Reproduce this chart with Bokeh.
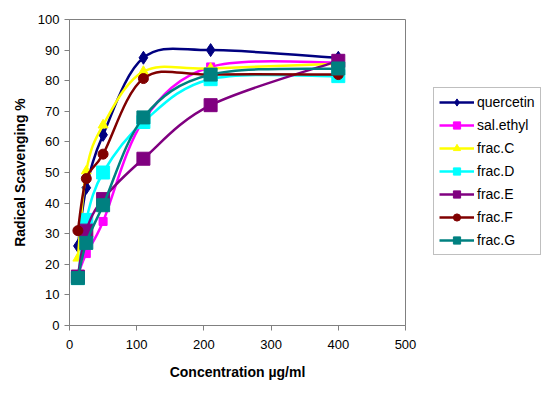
from bokeh.embed import file_html
from bokeh.models import Legend, LegendItem
from bokeh.plotting import figure
from bokeh.resources import INLINE

FONT = "Liberation Sans"

conc = [12.5, 25, 50, 110, 210, 400]

quercetin = [26, 45, 62.3, 87.5, 90, 87.5]
sal_ethyl = [16.5, 23.5, 34, 67, 84.5, 86]
frac_c = [22, 50.5, 65.5, 83, 84, 85.5]
frac_d = [15.5, 34.5, 50, 66.5, 80.5, 81.5]
frac_e = [16, 31, 41.3, 54.5, 72, 86.5]
frac_f = [31, 48, 56, 80.7, 82, 82]
frac_g = [15.5, 27, 39.3, 68, 82, 84]

x_ticks = [0, 100, 200, 300, 400, 500]
y_ticks = [0, 10, 20, 30, 40, 50, 60, 70, 80, 90, 100]

# name, values, colour, marker, marker size
series = [
    ("quercetin", quercetin, "#000080", "diamond", 13),
    ("sal.ethyl", sal_ethyl, "#FF00FF", "square", 8),
    ("frac.C", frac_c, "#FFFF00", "triangle", 10),
    ("frac.D", frac_d, "#00FFFF", "square", 13),
    ("frac.E", frac_e, "#800080", "square", 13),
    ("frac.F", frac_f, "#800000", "circle", 10),
    ("frac.G", frac_g, "#008080", "square", 13),
]


def smooth_segments(xs, ys):
    """Catmull-Rom control points, like Excel's smoothed line."""
    pts = list(zip(xs, ys))
    n = len(pts)
    out = {k: [] for k in ("x0", "y0", "x1", "y1", "cx0", "cy0", "cx1", "cy1")}
    for i in range(n - 1):
        p0 = pts[max(i - 1, 0)]
        p1 = pts[i]
        p2 = pts[i + 1]
        p3 = pts[min(i + 2, n - 1)]
        out["x0"].append(p1[0])
        out["y0"].append(p1[1])
        out["x1"].append(p2[0])
        out["y1"].append(p2[1])
        out["cx0"].append(p1[0] + (p2[0] - p0[0]) / 6)
        out["cy0"].append(p1[1] + (p2[1] - p0[1]) / 6)
        out["cx1"].append(p2[0] - (p3[0] - p1[0]) / 6)
        out["cy1"].append(p2[1] - (p3[1] - p1[1]) / 6)
    return out


p = figure(
    frame_width=336,
    frame_height=306,
    x_range=(0, 500),
    y_range=(0, 100),
    output_backend="svg",
    toolbar_location=None,
    min_border_left=69,
    min_border_right=129,
    min_border_top=19,
    min_border_bottom=70,
)
p.xgrid.visible = False
p.ygrid.visible = False
p.outline_line_color = "#808080"
p.background_fill_color = "white"

items = []
for name, vals, color, marker, size in series:
    seg = smooth_segments(conc, vals)
    p.bezier(**seg, line_color=color, line_width=2.5)
    leg_line = p.line(conc[:1], vals[:1], line_color=color, line_width=2.5)
    dots = p.scatter(conc, vals, marker=marker, size=size, fill_color=color, line_color=color)
    items.append(LegendItem(label=name, renderers=[leg_line, dots]))

legend = Legend(
    items=items,
    location=(28, 70),
    label_text_font=FONT,
    label_text_font_size="14px",
    label_text_color="black",
    glyph_width=35,
    glyph_height=18,
    label_height=18,
    label_standoff=3,
    spacing=5,
    padding=5,
    margin=0,
    border_line_color="#808080",
    border_line_width=1,
    background_fill_color="white",
    background_fill_alpha=1,
)
p.add_layout(legend, "right")

for ax in (p.xaxis, p.yaxis):
    ax.axis_line_color = "#808080"
    ax.major_tick_line_color = "#808080"
    ax.major_tick_out = 5
    ax.major_tick_in = 0
    ax.minor_tick_line_color = None
    ax.major_label_text_font = FONT
    ax.major_label_text_font_size = "13px"
    ax.major_label_text_color = "black"
    ax.axis_label_text_font = FONT
    ax.axis_label_text_font_size = "14px"
    ax.axis_label_text_font_style = "bold"
    ax.axis_label_text_color = "black"

p.xaxis.ticker = x_ticks
p.yaxis.ticker = y_ticks
p.xaxis.axis_label = "Concentration µg/ml"
p.yaxis.axis_label = "Radical Scavenging %"
p.xaxis.major_label_standoff = 9
p.yaxis.major_label_standoff = 5
p.xaxis.axis_label_standoff = 12
p.yaxis.axis_label_standoff = 7

open("out.html", "w").write(file_html(p, INLINE))
